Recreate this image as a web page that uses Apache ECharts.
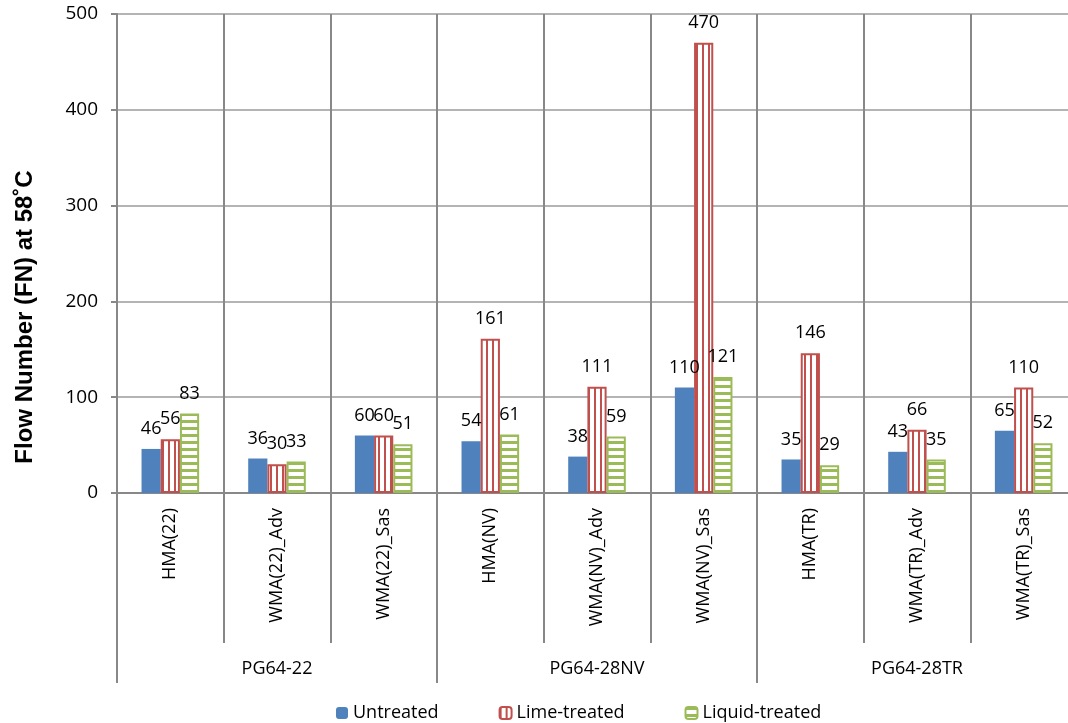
<!DOCTYPE html>
<html>
<head>
<meta charset="utf-8">
<script src="https://cdn.jsdelivr.net/npm/echarts@6/dist/echarts.min.js"></script>
<style>html,body{margin:0;padding:0;background:#fff;}#c{width:1068px;height:723px;}</style>
</head>
<body>
<div id="c"></div>
<script>
const categories = ['HMA(22)', 'WMA(22)_Adv', 'WMA(22)_Sas', 'HMA(NV)', 'WMA(NV)_Adv', 'WMA(NV)_Sas', 'HMA(TR)', 'WMA(TR)_Adv', 'WMA(TR)_Sas'];
const groups = ['PG64-22', 'PG64-28NV', 'PG64-28TR'];
const seriesNames = ['Untreated', 'Lime-treated', 'Liquid-treated'];
const untreated = [46, 36, 60, 54, 38, 110, 35, 43, 65];
const limeTreated = [56, 30, 60, 161, 111, 470, 146, 66, 110];
const liquidTreated = [83, 33, 51, 61, 59, 121, 29, 35, 52];
const yTicks = [0, 100, 200, 300, 400, 500];

const FONT = '"Open Sans", "Noto Sans", sans-serif';
const BLUE = '#4F81BD', RED = '#C0504D', GREEN = '#9BBB59';

function makePattern(kind) {
  const c = document.createElement('canvas');
  if (kind === 'v') {
    c.width = 6; c.height = 6;
    const g = c.getContext('2d');
    g.fillStyle = '#fff'; g.fillRect(0, 0, 6, 6);
    g.fillStyle = RED; g.fillRect(0, 0, 2, 6);
  } else {
    c.width = 7; c.height = 7;
    const g = c.getContext('2d');
    g.fillStyle = '#fff'; g.fillRect(0, 0, 7, 7);
    g.fillStyle = GREEN; g.fillRect(0, 0, 7, 3);
  }
  return { image: c, repeat: 'repeat' };
}

const chart = echarts.init(document.getElementById('c'), null, { renderer: 'canvas' });
const labelCfg = { show: true, position: 'top', distance: 11, color: '#000', fontSize: 18, fontFamily: FONT };

chart.setOption({
  animation: false,
  backgroundColor: '#fff',
  grid: { left: 117, top: 14, width: 960, height: 479, containLabel: false, outerBoundsMode: 'none' },
  legend: {
    left: 331, top: 699,
    itemWidth: 12, itemHeight: 12, itemGap: 60,
    textStyle: { fontSize: 18, fontFamily: FONT, color: '#000' },
    data: seriesNames
  },
  graphic: [{
    type: 'text', x: 25, y: 317, rotation: Math.PI / 2,
    style: { text: 'Flow Number (FN) at 58˚C', font: 'bold 24px "Liberation Sans", Arial, sans-serif', fill: '#000', align: 'center', verticalAlign: 'middle' }
  }],
  xAxis: [{
    type: 'category', data: categories, position: 'bottom',
    axisLine: { show: true, lineStyle: { color: '#888', width: 2 } },
    axisTick: { show: true, length: 150, interval: 0, lineStyle: { color: '#888', width: 2 } },
    splitLine: { show: true, interval: 0, lineStyle: { color: '#888', width: 2 } },
    axisLabel: { rotate: 90, interval: 0, margin: 15, fontSize: 18, fontFamily: FONT, color: '#000' }
  }, {
    type: 'category', data: groups, position: 'bottom', offset: 0,
    axisLine: { show: false },
    axisTick: { show: true, length: 190, interval: 0, lineStyle: { color: '#888', width: 2 } },
    splitLine: { show: false },
    axisLabel: { margin: 167, interval: 0, fontSize: 18, fontFamily: FONT, color: '#000' }
  }],
  yAxis: {
    type: 'value', min: 0, max: 500, interval: 100,
    axisLine: { show: true, lineStyle: { color: '#888', width: 2 } },
    axisTick: { show: true, length: 6, lineStyle: { color: '#888', width: 2 } },
    splitLine: { show: true, lineStyle: { color: '#B4B4B4', width: 2 } },
    axisLabel: { margin: 19, fontSize: 19, fontFamily: FONT, color: '#000',
      formatter: v => yTicks.includes(v) ? String(v) : '' }
  },
  series: [{
    name: seriesNames[0], type: 'bar', data: untreated, xAxisIndex: 0,
    barGap: '0%', barCategoryGap: '46%',
    itemStyle: { color: BLUE },
    label: labelCfg
  }, {
    name: seriesNames[1], type: 'bar', data: limeTreated, xAxisIndex: 0,
    barGap: '0%', barCategoryGap: '46%',
    itemStyle: { color: makePattern('v'), borderColor: RED, borderWidth: 2 },
    label: labelCfg
  }, {
    name: seriesNames[2], type: 'bar', data: liquidTreated, xAxisIndex: 0,
    barGap: '0%', barCategoryGap: '46%',
    itemStyle: { color: makePattern('h'), borderColor: GREEN, borderWidth: 2 },
    label: labelCfg
  }]
});
</script>
</body>
</html>
